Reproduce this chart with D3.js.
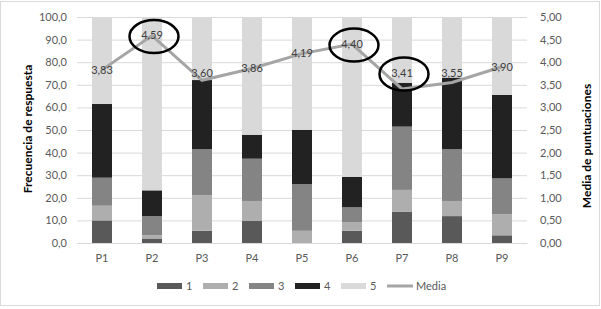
<!DOCTYPE html>
<html>
<head>
<meta charset="utf-8">
<script src="https://cdn.jsdelivr.net/npm/d3@7"></script>
<style>
  body { margin: 0; background: #fff; }
  text { font-family: Lato, "Open Sans", sans-serif; }
</style>
</head>
<body>
<svg id="chart"></svg>
<script>
// Categories and series (percent of answers per score)
const categories = ['P1', 'P2', 'P3', 'P4', 'P5', 'P6', 'P7', 'P8', 'P9'];
const score1 = [10.0, 2.0, 5.4, 9.9, 0.0, 5.4, 13.9, 11.9, 3.4];
const score2 = [6.5, 1.4, 15.8, 8.7, 5.4, 3.9, 9.6, 6.7, 9.3];
const score3 = [12.4, 8.5, 20.3, 18.7, 20.6, 6.5, 28.0, 22.9, 15.9];
const score4 = [32.6, 11.4, 30.6, 10.6, 24.1, 13.5, 19.4, 31.7, 36.9];
const score5 = [38.5, 76.7, 27.9, 52.1, 49.9, 70.7, 29.1, 26.8, 34.5];
const media = [3.83, 4.59, 3.60, 3.86, 4.19, 4.40, 3.41, 3.55, 3.90];
const seriesNames = ['1', '2', '3', '4', '5'];
const leftTicks = [0, 10, 20, 30, 40, 50, 60, 70, 80, 90, 100];
const rightTicks = [0, 0.5, 1, 1.5, 2, 2.5, 3, 3.5, 4, 4.5, 5];
const circled = ['P2', 'P6', 'P7'];

const W = 601, H = 309;
const margin = {top: 17, right: 74, bottom: 66, left: 77};
const width = W - margin.left - margin.right;
const height = H - margin.top - margin.bottom;

const colors = ['#595959', '#aeaeae', '#848484', '#222222', '#d9d9d9'];
const lineColor = '#a5a5a5';
const fmt1 = d3.format('.1f'), fmt2 = d3.format('.2f');
const comma = s => s.replace('.', ',');

const svg = d3.select('#chart').attr('width', W).attr('height', H);

// Outer chart border
svg.append('rect')
  .attr('x', 0.5).attr('y', 1.5)
  .attr('width', W - 2).attr('height', H - 5)
  .attr('fill', 'none').attr('stroke', '#d9d9d9');

const chart = svg.append('g').attr('transform', `translate(${margin.left},${margin.top})`);

// Scales
const x = d3.scaleBand().domain(categories).range([0, width]).paddingInner(0.6).paddingOuter(0.3);
const y = d3.scaleLinear().domain([0, 100]).range([height, 0]);
const y2 = d3.scaleLinear().domain([0, 5]).range([height, 0]);

// Gridlines
chart.append('g')
  .call(d3.axisLeft(y).tickValues(leftTicks).tickSize(-width).tickFormat(''))
  .call(g => g.select('.domain').remove())
  .call(g => g.selectAll('line').attr('stroke', '#d9d9d9'));

// Left axis labels
chart.append('g')
  .call(d3.axisLeft(y).tickValues(leftTicks).tickSize(0).tickPadding(10).tickFormat(d => comma(fmt1(d))))
  .call(g => g.select('.domain').remove())
  .call(g => g.selectAll('text').attr('fill', '#595959').style('font-size', '11px'));

// Right axis labels
chart.append('g')
  .attr('transform', `translate(${width},0)`)
  .call(d3.axisRight(y2).tickValues(rightTicks).tickSize(0).tickPadding(13).tickFormat(d => comma(fmt2(d))))
  .call(g => g.select('.domain').remove())
  .call(g => g.selectAll('text').attr('fill', '#595959').style('font-size', '11px'));

// Stacked bars
const rows = categories.map((c, i) => ({cat: c, s1: score1[i], s2: score2[i], s3: score3[i], s4: score4[i], s5: score5[i]}));
const stack = d3.stack().keys(['s1', 's2', 's3', 's4', 's5'])(rows);

chart.selectAll('.layer')
  .data(stack)
  .join('g')
  .attr('class', 'layer')
  .attr('fill', (d, i) => colors[i])
  .selectAll('rect')
  .data(d => d)
  .join('rect')
  .attr('x', d => x(d.data.cat))
  .attr('width', x.bandwidth())
  .attr('y', d => y(d[1]))
  .attr('height', d => y(d[0]) - y(d[1]));

// Bottom axis
chart.append('g')
  .attr('transform', `translate(0,${height})`)
  .call(d3.axisBottom(x).tickSize(0).tickPadding(11))
  .call(g => g.select('.domain').attr('stroke', '#d9d9d9'))
  .call(g => g.selectAll('text').attr('fill', '#595959').style('font-size', '11px'));

// Media line
const cx = c => x(c) + x.bandwidth() / 2;
chart.append('path')
  .datum(media)
  .attr('fill', 'none')
  .attr('stroke', lineColor)
  .attr('stroke-width', 3)
  .attr('d', d3.line().x((d, i) => cx(categories[i])).y(d => y2(d)));

// Data labels (kept out of the bars for the low points)
const labelY = d => Math.min(y2(d), 56);
chart.selectAll('.mlabel')
  .data(media)
  .join('text')
  .attr('class', 'mlabel')
  .attr('x', (d, i) => cx(categories[i]))
  .attr('y', d => labelY(d))
  .attr('dy', '0.35em')
  .attr('text-anchor', 'middle')
  .attr('fill', '#404040')
  .style('font-size', '11px')
  .text(d => comma(fmt2(d)));

// Circled highlights
chart.selectAll('.ring')
  .data(circled)
  .join('ellipse')
  .attr('class', 'ring')
  .attr('cx', c => cx(c) + 2)
  .attr('cy', c => labelY(media[categories.indexOf(c)]) + 1)
  .attr('rx', 24.5)
  .attr('ry', 16.5)
  .attr('fill', 'none')
  .attr('stroke', '#000')
  .attr('stroke-width', 2.5);

// Axis titles
svg.append('text')
  .attr('transform', `translate(32,129) rotate(-90)`)
  .attr('text-anchor', 'middle')
  .attr('fill', '#000')
  .style('font-size', '12px').style('font-weight', 'bold')
  .text('Frecuencia de respuesta');

svg.append('text')
  .attr('transform', `translate(591,146) rotate(-90)`)
  .attr('text-anchor', 'middle')
  .attr('fill', '#000')
  .style('font-size', '12px').style('font-weight', 'bold')
  .text('Media de puntuaciones');

// Legend
const legend = svg.append('g').attr('transform', 'translate(157,286)');
const legendX = [0, 46, 92, 138, 184];
seriesNames.forEach((name, i) => {
  const g = legend.append('g').attr('transform', `translate(${legendX[i]},0)`);
  g.append('rect').attr('x', 0).attr('y', -3).attr('width', 25).attr('height', 6).attr('fill', colors[i]);
  g.append('text').attr('x', 29).attr('dy', '0.35em').attr('fill', '#595959').style('font-size', '11px').text(name);
});
const lg = legend.append('g').attr('transform', 'translate(230,0)');
lg.append('line').attr('x1', 0).attr('x2', 26).attr('stroke', lineColor).attr('stroke-width', 3);
lg.append('text').attr('x', 29).attr('dy', '0.35em').attr('fill', '#595959').style('font-size', '11px').text('Media');
</script>
</body>
</html>
